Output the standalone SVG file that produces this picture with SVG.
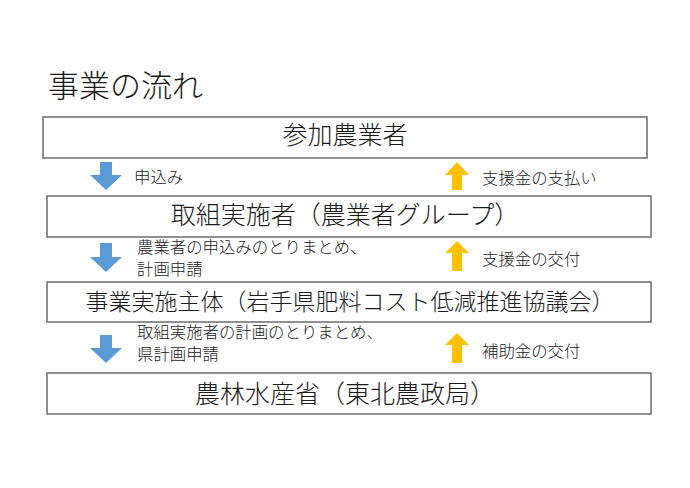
<svg xmlns="http://www.w3.org/2000/svg" width="690" height="488" viewBox="0 0 690 488">
<style>
text{font-family:"Noto Sans CJK JP","Noto Sans CJK SC",sans-serif;fill:#1a1a1a;font-weight:300}
.box{fill:#fff;stroke:#6b6b6b;stroke-width:1.5}
.bt{font-size:25px;text-anchor:middle}
.lb{font-size:16.4px}
.down{fill:#5B9BD5}
.up{fill:#FFC000}
</style>
<rect width="690" height="488" fill="#fff"/>
<text x="48" y="97" style="font-size:31px">事業の流れ</text>
<g id="n1"><rect class="box" x="43" y="117" width="604" height="41"/><text class="bt" x="345" y="144">参加農業者</text></g>
<g id="n2"><rect class="box" x="47" y="196" width="604" height="41"/><text class="bt" x="345" y="224">取組実施者（農業者グループ）</text></g>
<g id="n3"><rect class="box" x="47" y="282" width="604" height="40"/><text class="bt" x="350" y="310" style="font-size:23px">事業実施主体（岩手県肥料コスト低減推進協議会）</text></g>
<g id="n4"><rect class="box" x="47" y="373" width="604" height="41"/><text class="bt" x="345" y="403">農林水産省（東北農政局）</text></g>
<g id="connectors">
<polygon class="down" points="100,162 112,162 112,175 122,175 106,190 90,175 100,175"/>
<polygon class="down" points="100,243 112,243 112,257 122,257 106,272 90,257 100,257"/>
<polygon class="down" points="100,335 112,335 112,348 122,348 106,363 90,348 100,348"/>
<polygon class="up" points="457,162 469,175 462,175 462,190 452,190 452,175 445,175"/>
<polygon class="up" points="457,241 469,253 462,253 462,271 452,271 452,253 445,253"/>
<polygon class="up" points="457,333 469,345 462,345 462,363 452,363 452,345 445,345"/>
<text class="lb" x="134" y="183">申込み</text>
<text class="lb" x="137" y="253">農業者の申込みのとりまとめ、</text>
<text class="lb" x="137" y="275">計画申請</text>
<text class="lb" x="137" y="338">取組実施者の計画のとりまとめ、</text>
<text class="lb" x="137" y="360">県計画申請</text>
<text class="lb" x="482" y="184">支援金の支払い</text>
<text class="lb" x="482" y="265">支援金の交付</text>
<text class="lb" x="482" y="357">補助金の交付</text>
</g>
</svg>
